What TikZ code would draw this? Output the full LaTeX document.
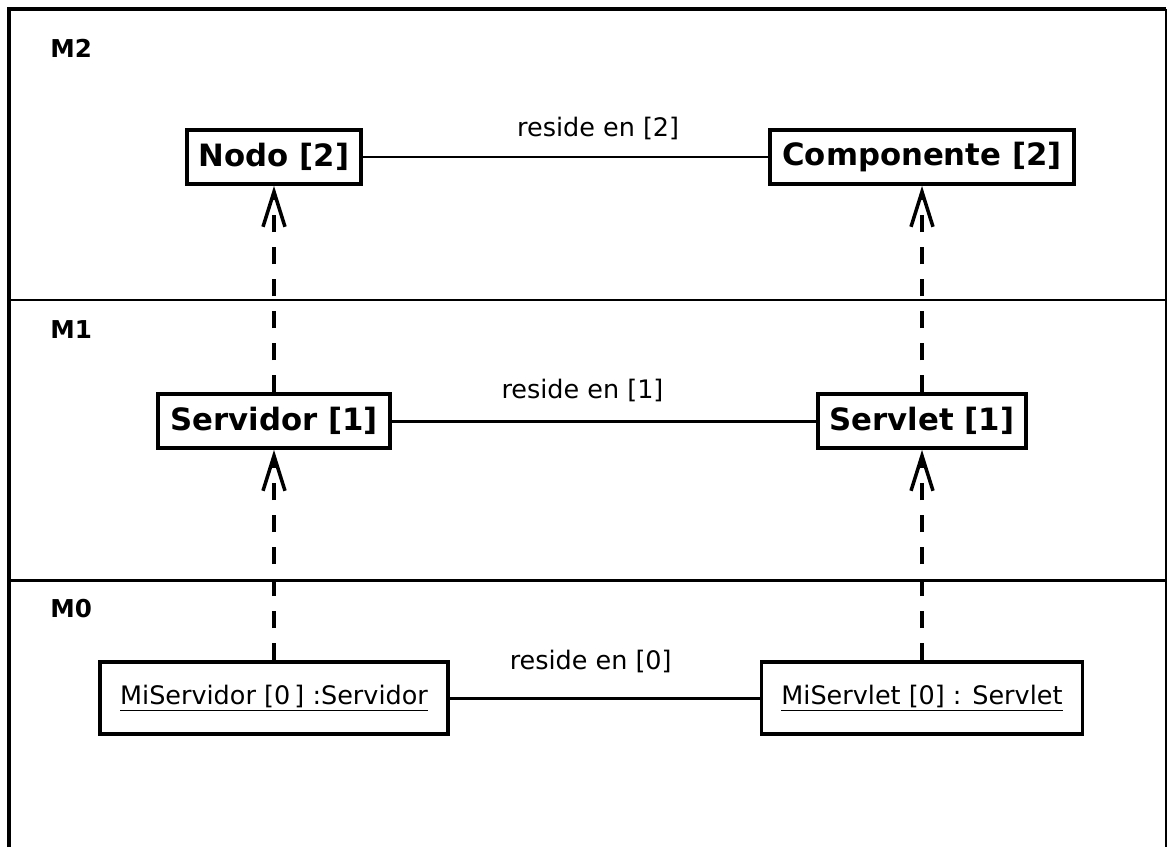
\documentclass[tikz,border=0pt]{standalone}
\usepackage{fontspec}
\setmainfont{DejaVu Sans}
\usetikzlibrary{arrows.meta}

\tikzset{
  level/.style={font=\fontsize{14}{16}\selectfont\bfseries, anchor=west, inner sep=0pt},
  classbox/.style={draw, line width=2.2pt, fill=white, inner xsep=0.24cm,
    minimum height=1.08cm, font=\fontsize{17.5}{20}\selectfont\bfseries},
  instbox/.style={draw, line width=2.2pt, fill=white, inner xsep=0.4cm,
    minimum height=1.44cm, font=\fontsize{14.5}{17}\selectfont},
  resides/.style={line width=1.7pt},
  lbl/.style={font=\fontsize{14.5}{17}\selectfont},
  instof/.style={line width=2pt, dash pattern=on 0.34cm off 0.3cm,
    -{Straight Barb[length=0.7cm,width=0.44cm]}},
}

\begin{document}
\begin{tikzpicture}

\useasboundingbox (0,0) rectangle (23.38,-16.94);
\fill[white] (0,0) rectangle (23.38,-16.94);

% ---- frame and the three levels ----
\draw[line width=2.8pt] (0.18,-16.94) -- (0.18,-0.18) -- (23.32,-0.18);
\draw[line width=0.9pt] (23.32,-0.18) -- (23.32,-16.94);
\draw[line width=1.7pt] (0.18,-6.0)  -- (23.32,-6.0);
\draw[line width=1.7pt] (0.18,-11.6) -- (23.32,-11.6);

\node[level] (m2) at (1.0,-0.96)  {M2};
\node[level] (m1) at (1.0,-6.6)   {M1};
\node[level] (m0) at (1.0,-12.18) {M0};

% ---- columns: node types and component types ----
\def\xl{5.48}
\def\xr{18.44}

\node[classbox] (Nodo)       at (\xl,-3.14) {Nodo [2]};
\node[classbox] (Componente) at (\xr,-3.14) {Componente [2]};

\node[classbox] (Servidor) at (\xl,-8.42) {Servidor [1]};
\node[classbox] (Servlet)  at (\xr,-8.42) {Servlet [1]};

\node[instbox] (MiServidor) at (\xl,-13.96) {\underline{MiServidor [0\,] :Servidor}};
\node[instbox] (MiServlet)  at (\xr,-13.96) {\underline{MiServlet [0] : Servlet}};

% ---- reside en links ----
\draw[resides] (Nodo) -- node[lbl, pos=.58, yshift=.58cm] (r2) {reside en [2]} (Componente);
\draw[resides] (Servidor) -- node[lbl, pos=.45, yshift=.62cm] (r1) {reside en [1]} (Servlet);
\draw[resides] (MiServidor) -- node[lbl, pos=.455, yshift=.74cm] (r0) {reside en [0]} (MiServlet);

% ---- instance-of arrows ----
\draw[instof] (Servidor)   -- (Nodo);
\draw[instof] (Servlet)    -- (Componente);
\draw[instof] (MiServidor) -- (Servidor);
\draw[instof] (MiServlet)  -- (Servlet);

\end{tikzpicture}
\end{document}
